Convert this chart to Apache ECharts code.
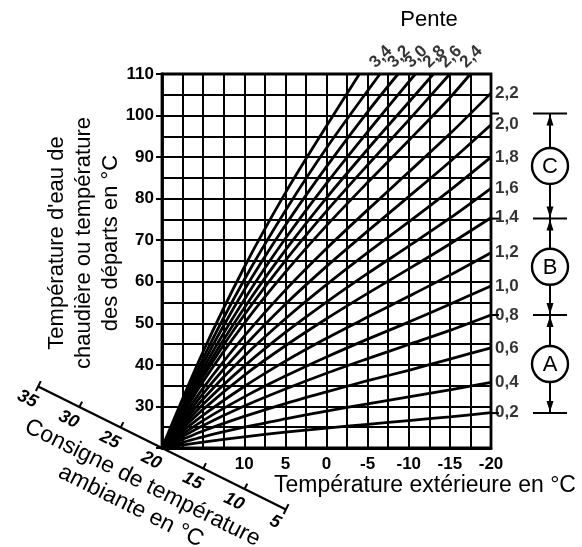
<!DOCTYPE html>
<html><head><meta charset="utf-8">
<script src="https://cdn.jsdelivr.net/npm/echarts@6/dist/echarts.min.js"></script>
<style>html,body{margin:0;padding:0;background:#fff}#c{width:582px;height:547px}</style>
</head><body><div id="c"></div>
<script>
// ---- data ----
// outdoor temperature (x) vs flow temperature (y), one array per slope ("Pente")
const c02 = [[20,20],[15,21.4],[10,22.7],[5,23.8],[0,24.8],[-5,25.7],[-10,26.6],[-15,27.5],[-20,28.5]];
const c04 = [[20,20],[15,22.7],[10,25],[5,27],[0,28.9],[-5,30.6],[-10,32.3],[-15,34],[-20,35.8]];
const c06 = [[20,20],[15,24.1],[10,27.6],[5,30.7],[0,33.5],[-5,36.2],[-10,38.7],[-15,41.4],[-20,44.1]];
const c08 = [[20,20],[15,25.4],[10,30.1],[5,34.2],[0,38],[-5,41.5],[-10,44.9],[-15,48.3],[-20,52]];
const c10 = [[20,20],[15,26.6],[10,32.3],[5,37.3],[0,41.9],[-5,46.2],[-10,50.3],[-15,54.6],[-20,59]];
const c12 = [[20,20],[15,27.9],[10,34.8],[5,40.9],[0,46.4],[-5,51.5],[-10,56.5],[-15,61.6],[-20,67]];
const c14 = [[20,20],[15,29.3],[10,37.5],[5,44.6],[0,51.1],[-5,57.2],[-10,63.1],[-15,69.1],[-20,75.4]];
const c16 = [[20,20],[15,30.5],[10,39.7],[5,47.8],[0,55.1],[-5,62],[-10,68.6],[-15,75.3],[-20,82.5]];
const c18 = [[20,20],[15,31.8],[10,42.1],[5,51.1],[0,59.3],[-5,67],[-10,74.4],[-15,82],[-20,90]];
const c20 = [[20,20],[15,33.1],[10,44.5],[5,54.6],[0,63.7],[-5,72.2],[-10,80.5],[-15,88.9],[-20,97.8]];
const c22 = [[20,20],[15,34.4],[10,46.9],[5,58],[0,68],[-5,77.3],[-10,86.4],[-15,95.6],[-20,105.4]];
const c24 = [[20,20],[15,36],[10,50],[5,62.3],[0,73.5],[-5,83.9],[-10,94],[-15,104.3],[-17.5,110]];
const c26 = [[20,20],[15,37.1],[10,52],[5,65.1],[0,77],[-5,88.1],[-10,98.9],[-15,110]];
const c28 = [[20,20],[15,38],[10,53.7],[5,67.6],[0,80.2],[-5,91.9],[-10,103.2],[-13,110]];
const c30 = [[20,20],[15,39.1],[10,55.7],[5,70.4],[0,83.7],[-5,96.1],[-10.8,110]];
const c32 = [[20,20],[15,40.3],[10,58],[5,73.6],[0,87.7],[-5,100.9],[-8.7,110]];
const c34 = [[20,20],[15,41.6],[10,60.5],[5,77.1],[0,92.2],[-6.5,110]];
const c36 = [[20,20],[15,43.2],[10,63.5],[5,81.4],[0,97.5],[-4,110]];

const slopeLabels = ['0,2','0,4','0,6','0,8','1,0','1,2','1,4','1,6','1,8','2,0','2,2','2,4','2,6','2,8','3,0','3,2','3,4',''];
const curves = [c02,c04,c06,c08,c10,c12,c14,c16,c18,c20,c22,c24,c26,c28,c30,c32,c34,c36];

const roomTicks = [35,30,25,20,15,10,5];          // diagonal "consigne" axis
const bracketLevels = [100.5, 75.2, 52, 28.4];     // C / B / A range limits
const bracketLetters = ['C','B','A'];

const FONT = "'Liberation Sans', Arial, Helvetica, sans-serif";

const lineSeries = curves.map((d, i) => ({
  type: 'line', name: slopeLabels[i] || 'x', data: d, smooth: 0.3,
  showSymbol: false, symbol: 'none', clip: true, silent: true,
  lineStyle: { color: '#000', width: 2.8 }, z: 3
}));

const labelData = curves.map((d, i) => {
  const last = d[d.length - 1];
  const onTop = last[1] >= 110;
  return {
    value: last,
    label: onTop ? {
      show: slopeLabels[i] !== '', formatter: slopeLabels[i], position: 'inside',
      align: 'left', verticalAlign: 'bottom', rotate: 45, offset: [1, -3]
    } : {
      show: true, formatter: slopeLabels[i], position: 'right', distance: 4,
      align: 'left', verticalAlign: 'middle'
    }
  };
});

const option = {
  animation: false,
  backgroundColor: '#fff',
  textStyle: { fontFamily: FONT, color: '#000' },
  grid: { left: 162, top: 74, width: 329, height: 374, show: true, borderColor: '#000',
          borderWidth: 2.8, backgroundColor: 'transparent', containLabel: false, outerBoundsMode: 'none' },
  xAxis: {
    type: 'value', inverse: true, min: -20, max: 20, interval: 2.5,
    axisLine: { show: true, onZero: false, lineStyle: { color: '#000', width: 2.8 } },
    axisTick: { show: false },
    splitLine: { show: true, lineStyle: { color: '#000', width: 2 } },
    axisLabel: { show: true, margin: 8, color: '#000', fontFamily: FONT, fontWeight: 'bold', fontSize: 17,
      showMinLabel: true, showMaxLabel: true,
      formatter: v => (Math.abs(v % 5) < 1e-9 && v <= 10) ? String(v) : '' }
  },
  yAxis: [{
    type: 'value', min: 20, max: 110, interval: 5, position: 'left',
    axisLine: { show: true, onZero: false, lineStyle: { color: '#000', width: 2.8 } },
    axisTick: { show: false }, axisLabel: { show: false },
    splitLine: { show: true, lineStyle: { color: '#000', width: 2 } }
  }, {
    type: 'value', min: 20, max: 110, interval: 10, position: 'left',
    axisLine: { show: false, onZero: false },
    axisTick: { show: true, length: 6, lineStyle: { color: '#000', width: 2 } },
    splitLine: { show: false },
    axisLabel: { show: true, margin: 8, color: '#000', fontFamily: FONT, fontWeight: 'bold', fontSize: 17,
      formatter: v => v >= 30 ? String(v) : '' }
  }],
  series: lineSeries.concat([{
    type: 'scatter', name: 'labels', data: labelData, symbolSize: 0, clip: false, silent: true, z: 5,
    label: { color: '#000', fontFamily: FONT, fontWeight: 'bold', fontSize: 17 }
  }])
};

const chart = echarts.init(document.getElementById('c'));
chart.setOption(option);

// ---- annotations positioned from the chart's own scales ----
const O = chart.convertToPixel({ gridIndex: 0 }, [20, 20]);
const rightX = chart.convertToPixel({ gridIndex: 0 }, [-20, 20])[0];
const ang = 26.4 * Math.PI / 180;
const u = [Math.cos(ang), Math.sin(ang)], n = [-Math.sin(ang), Math.cos(ang)];
const pxPerDeg = 9.22;
function P(r, off, along) {
  const t = (20 - r) * pxPerDeg + (along || 0);
  return [O[0] + u[0] * t + n[0] * off, O[1] + u[1] * t + n[1] * off];
}
const g = [];
const blk = { stroke: '#000', lineWidth: 2.4 };
// diagonal axis
const a0 = P(roomTicks[0], 0), a1 = P(roomTicks[roomTicks.length - 1], 0);
g.push({ type: 'line', shape: { x1: a0[0], y1: a0[1], x2: a1[0], y2: a1[1] }, style: blk, z: 10 });
roomTicks.forEach((r, i) => {
  const end = (i === 0 || i === roomTicks.length - 1);
  const p1 = P(r, -6), p2 = P(r, end ? 5 : 0);
  g.push({ type: 'line', shape: { x1: p1[0], y1: p1[1], x2: p2[0], y2: p2[1] }, style: { stroke: '#000', lineWidth: 2 }, z: 10 });
  const lp = P(r, 16, -4);
  g.push({ type: 'text', x: lp[0], y: lp[1], rotation: -ang, z: 10,
    style: { text: String(r), font: 'italic bold 18px ' + FONT, fill: '#000', align: 'center', verticalAlign: 'middle' } });
});
const tp = P(20, 53, -2);
g.push({ type: 'text', x: tp[0], y: tp[1], rotation: -ang, z: 10,
  style: { text: 'Consigne de température\nambiante en °C', font: '23px ' + FONT, lineHeight: 26,
           fill: '#000', align: 'center', verticalAlign: 'middle' } });

// axis titles
g.push({ type: 'text', x: 84, y: 243, rotation: Math.PI / 2, z: 10,
  style: { text: "Température d'eau de\nchaudière ou température\ndes départs en °C", font: '22px ' + FONT,
           lineHeight: 27, fill: '#000', align: 'center', verticalAlign: 'middle' } });
g.push({ type: 'text', x: 425, y: 486, z: 10,
  style: { text: 'Température extérieure en °C', font: '23px ' + FONT, fill: '#000', align: 'center', verticalAlign: 'middle' } });
g.push({ type: 'text', x: 429, y: 20, z: 10,
  style: { text: 'Pente', font: '22px ' + FONT, fill: '#000', align: 'center', verticalAlign: 'middle' } });

// bracket C / B / A
const bx = 550;
const ys = bracketLevels.map(v => chart.convertToPixel({ gridIndex: 0 }, [-20, v])[1]);
g.push({ type: 'line', shape: { x1: bx, y1: ys[0], x2: bx, y2: ys[ys.length - 1] }, style: { stroke: '#000', lineWidth: 2 }, z: 10 });
ys.forEach(y => {
  g.push({ type: 'line', shape: { x1: bx - 17, y1: y, x2: bx + 17, y2: y }, style: { stroke: '#000', lineWidth: 2 }, z: 10 });
  g.push({ type: 'line', shape: { x1: rightX, y1: y, x2: rightX + 8, y2: y }, style: { stroke: '#000', lineWidth: 2 }, z: 10 });
});
function arrow(yTip, dir) {
  const yb = yTip - dir * 11;
  g.push({ type: 'polygon', shape: { points: [[bx, yTip], [bx - 3.5, yb], [bx + 3.5, yb]] }, style: { fill: '#000' }, z: 11 });
}
bracketLetters.forEach((L, i) => {
  const cy = (ys[i] + ys[i + 1]) / 2;
  arrow(ys[i] + 1, -1);
  arrow(ys[i + 1] - 1, 1);
  g.push({ type: 'circle', shape: { cx: bx, cy: cy, r: 18 }, style: { fill: '#fff', stroke: '#000', lineWidth: 2.4 }, z: 12 });
  g.push({ type: 'text', x: bx, y: cy + 1, z: 13,
    style: { text: L, font: '22px ' + FONT, fill: '#000', align: 'center', verticalAlign: 'middle' } });
});

chart.setOption({ graphic: g });
</script></body></html>
